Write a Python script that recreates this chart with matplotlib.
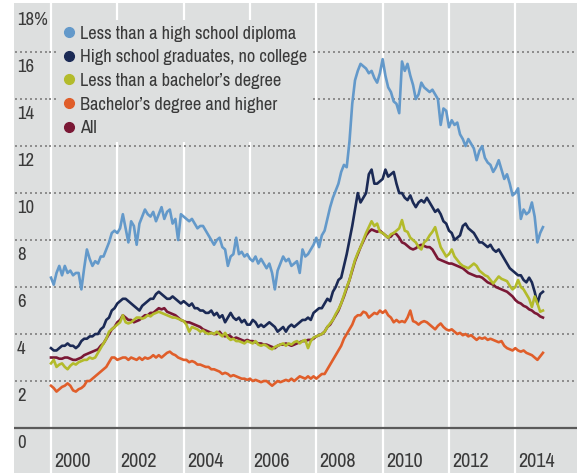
import numpy as np
import matplotlib
matplotlib.use("Agg")
import matplotlib.pyplot as plt
from matplotlib import font_manager as fm
from matplotlib.lines import Line2D

# Monthly unemployment rates (%), Jan 2000 - Nov 2014, one row per year
less_hs = [
    6.4, 6.1, 6.6, 6.9, 6.5, 6.9, 6.6, 6.7, 6.5, 6.6, 6.6, 5.9,
    6.8, 7.6, 7.2, 6.9, 7.1, 7.0, 7.3, 7.3, 7.6, 7.9, 8.3, 8.4,
    8.3, 8.5, 9.1, 8.5, 7.9, 8.8, 8.6, 7.8, 8.7, 9.0, 9.3, 9.1,
    9.0, 9.2, 8.8, 9.1, 9.4, 8.9, 9.2, 9.3, 8.7, 8.9, 8.0, 9.1,
    9.0, 8.9, 8.8, 8.9, 8.7, 8.5, 8.6, 8.6, 8.4, 8.2, 8.0, 7.8,
    8.0, 8.1, 7.7, 7.6, 6.9, 7.3, 7.4, 8.1, 7.4, 7.5, 7.3, 7.4,
    7.2, 7.1, 7.3, 7.0, 7.2, 7.0, 6.8, 7.0, 6.6, 5.9, 6.7, 7.0,
    7.3, 7.1, 7.2, 6.9, 7.0, 7.1, 6.6, 7.6, 7.3, 7.4, 7.6, 7.8,
    8.1, 7.7, 8.2, 8.4, 8.9, 9.4, 9.8, 10.1, 10.4, 10.9, 11.2, 11.1,
    12.2, 13.8, 14.8, 15.2, 15.5, 15.4, 15.3, 15.1, 15.2, 14.9, 14.7, 15.1,
    15.7, 15.0, 14.5, 14.3, 13.9, 13.8, 13.4, 15.6, 15.2, 15.5, 15.0, 14.6,
    14.0, 14.2, 14.7, 14.5, 14.4, 14.3, 14.4, 14.2, 14.0, 12.9, 13.6, 13.5,
    12.8, 13.1, 12.9, 13.0, 12.5, 12.3, 12.0, 12.3, 12.1, 11.9, 11.4, 11.8,
    12.0, 11.5, 11.3, 11.2, 10.9, 11.1, 11.4, 11.0, 10.6, 10.8, 10.4, 9.9,
    10.0, 10.2, 8.9, 9.3, 9.1, 9.2, 9.6, 9.0, 7.9, 8.3, 8.55,
]
hs_grad = [
    3.4, 3.3, 3.3, 3.4, 3.5, 3.5, 3.6, 3.5, 3.5, 3.4, 3.5, 3.7,
    3.8, 3.8, 3.9, 3.9, 4.0, 4.0, 4.2, 4.3, 4.6, 4.7, 5.0, 5.1,
    5.3, 5.4, 5.5, 5.5, 5.4, 5.3, 5.2, 5.1, 5.0, 5.2, 5.3, 5.4,
    5.5, 5.5, 5.7, 5.8, 5.7, 5.6, 5.5, 5.5, 5.6, 5.5, 5.4, 5.3,
    5.4, 5.3, 5.2, 5.3, 5.1, 5.1, 5.0, 5.0, 4.9, 4.9, 5.0, 4.8,
    4.9, 4.7, 4.8, 4.5, 4.7, 4.9, 4.7, 4.6, 4.7, 4.5, 4.6, 4.4,
    4.4, 4.6, 4.5, 4.3, 4.4, 4.3, 4.4, 4.5, 4.4, 4.3, 4.1, 4.2,
    4.3, 4.1, 4.3, 4.4, 4.3, 4.4, 4.5, 4.6, 4.6, 4.7, 4.6, 4.9,
    5.0, 5.1, 5.1, 5.3, 5.5, 5.4, 5.8, 6.0, 6.3, 6.4, 6.9, 7.4,
    8.0, 8.6, 9.3, 10.0, 9.6, 9.8, 10.0, 10.8, 11.0, 10.4, 10.4, 10.5,
    10.6, 11.0, 10.7, 10.8, 10.9, 10.4, 10.0, 10.0, 9.8, 9.7, 9.9, 9.6,
    9.4, 9.6, 9.7, 9.6, 9.8, 9.6, 9.4, 9.2, 9.3, 9.1, 8.8, 8.7,
    8.4, 8.3, 8.0, 8.1, 8.2, 8.6, 8.7, 8.5, 8.4, 8.3, 8.1, 7.9,
    7.9, 7.8, 7.7, 7.8, 7.6, 7.5, 7.6, 7.4, 7.2, 7.0, 6.8, 6.7,
    6.6, 6.5, 6.5, 6.3, 6.2, 6.4, 6.2, 5.8, 5.3, 5.7, 5.8,
]
less_ba = [
    2.75, 2.9, 2.6, 2.7, 2.75, 2.6, 2.5, 2.65, 2.75, 2.7, 2.8, 2.85,
    2.9, 2.9, 3.0, 2.95, 3.0, 3.2, 3.4, 3.6, 3.8, 4.1, 4.2, 4.3,
    4.4, 4.5, 4.8, 4.5, 4.45, 4.5, 4.6, 4.7, 4.7, 4.65, 4.7, 4.8,
    4.75, 4.85, 4.9, 4.95, 4.9, 4.85, 4.8, 4.75, 4.7, 4.7, 4.65, 4.6,
    4.55, 4.4, 4.1, 4.3, 4.25, 4.2, 4.1, 4.15, 4.05, 4.0, 4.05, 4.0,
    4.1, 4.0, 3.9, 4.05, 3.85, 3.75, 3.8, 3.7, 3.7, 3.65, 3.6, 3.7,
    3.65, 3.6, 3.7, 3.55, 3.5, 3.55, 3.5, 3.4, 3.35, 3.45, 3.5, 3.55,
    3.6, 3.5, 3.6, 3.55, 3.65, 3.7, 3.6, 3.7, 3.75, 3.4, 3.7, 3.85,
    3.9, 3.95, 4.0, 4.1, 4.3, 4.45, 4.6, 4.85, 5.05, 5.3, 5.65, 6.0,
    6.3, 6.75, 7.15, 7.45, 7.7, 8.0, 8.3, 8.55, 8.8, 8.6, 8.7, 8.35,
    8.3, 8.2, 8.1, 8.25, 8.3, 8.4, 8.5, 8.85, 8.4, 8.35, 8.1, 8.0,
    7.9, 7.7, 7.6, 7.9, 8.0, 8.2, 8.35, 8.55, 8.1, 7.7, 7.5, 7.3,
    7.4, 7.6, 7.3, 7.15, 7.0, 6.9, 6.85, 6.8, 6.9, 7.0, 6.9, 6.7,
    6.6, 6.5, 6.45, 6.3, 6.15, 6.3, 6.45, 6.35, 6.3, 6.25, 6.05, 5.9,
    6.0, 6.3, 6.0, 5.9, 5.7, 5.5, 5.15, 5.6, 5.3, 4.95, 5.0,
]
ba_plus = [
    1.8, 1.7, 1.55, 1.65, 1.75, 1.8, 1.9, 1.8, 1.6, 1.55, 1.65, 1.7,
    1.8, 2.0, 2.0, 2.1, 2.2, 2.3, 2.4, 2.5, 2.6, 2.8, 3.0, 3.0,
    2.9, 2.95, 3.0, 3.0, 2.9, 3.0, 2.95, 2.9, 3.0, 2.9, 3.0, 2.95,
    3.0, 3.1, 3.0, 3.1, 3.0, 3.1, 3.2, 3.25, 3.15, 3.1, 3.0, 2.95,
    2.9, 2.9, 2.8, 2.85, 2.8, 2.7, 2.7, 2.65, 2.6, 2.6, 2.5, 2.5,
    2.45, 2.4, 2.3, 2.35, 2.3, 2.2, 2.25, 2.2, 2.15, 2.1, 2.1, 2.05,
    2.1, 2.0, 2.05, 2.0, 1.95, 2.0, 2.0, 1.9, 1.8, 1.9, 2.0, 1.95,
    2.0, 2.05, 2.0, 2.1, 2.0, 2.1, 2.2, 2.15, 2.1, 2.2, 2.1, 2.2,
    2.1, 2.2, 2.3, 2.3, 2.5, 2.7, 2.9, 3.1, 3.3, 3.5, 3.8, 4.0,
    4.2, 4.4, 4.7, 4.8, 4.8, 4.95, 4.9, 4.7, 4.8, 4.9, 4.85, 5.0,
    4.9, 5.0, 4.8, 4.7, 4.5, 4.6, 4.5, 4.55, 4.5, 4.7, 5.0, 4.55,
    4.5, 4.4, 4.5, 4.55, 4.5, 4.4, 4.3, 4.2, 4.35, 4.45, 4.3, 4.2,
    4.15, 4.2, 4.1, 4.0, 4.05, 3.95, 4.0, 3.9, 3.95, 3.85, 3.75, 3.85,
    3.8, 3.85, 3.75, 3.8, 3.75, 3.7, 3.65, 3.7, 3.5, 3.4, 3.35, 3.3,
    3.4, 3.3, 3.25, 3.3, 3.2, 3.15, 3.1, 3.0, 2.9, 3.05, 3.2,
]
all_rate = [
    3.0, 3.0, 3.0, 2.95, 2.95, 3.0, 3.0, 2.95, 2.9, 2.9, 2.95, 3.0,
    3.1, 3.15, 3.2, 3.25, 3.3, 3.35, 3.5, 3.6, 3.8, 4.0, 4.2, 4.3,
    4.5, 4.6, 4.8, 4.7, 4.6, 4.6, 4.5, 4.55, 4.6, 4.7, 4.8, 4.8,
    4.9, 4.9, 5.0, 5.1, 5.05, 5.1, 4.95, 4.9, 4.85, 4.8, 4.7, 4.6,
    4.55, 4.5, 4.5, 4.45, 4.4, 4.35, 4.3, 4.2, 4.15, 4.1, 4.05, 4.0,
    4.0, 4.1, 3.95, 3.9, 3.95, 3.9, 3.8, 3.85, 3.8, 3.75, 3.7, 3.75,
    3.7, 3.7, 3.65, 3.6, 3.6, 3.55, 3.55, 3.5, 3.45, 3.4, 3.5, 3.55,
    3.55, 3.6, 3.55, 3.5, 3.55, 3.6, 3.65, 3.7, 3.7, 3.75, 3.75, 3.8,
    3.9, 3.95, 4.0, 4.1, 4.3, 4.4, 4.6, 4.8, 5.0, 5.3, 5.6, 5.95,
    6.3, 6.7, 7.1, 7.4, 7.7, 7.95, 8.2, 8.35, 8.45, 8.4, 8.35, 8.4,
    8.3, 8.2, 8.1, 8.15, 8.3, 8.25, 8.1, 7.9, 7.85, 7.75, 7.65, 7.6,
    7.65, 7.75, 7.8, 7.75, 7.7, 7.7, 7.6, 7.4, 7.2, 7.15, 7.1, 7.05,
    7.0, 7.0, 6.95, 6.9, 6.85, 6.8, 6.7, 6.6, 6.55, 6.5, 6.45, 6.45,
    6.4, 6.3, 6.2, 6.15, 6.1, 6.0, 5.95, 5.9, 5.85, 5.8, 5.7, 5.6,
    5.45, 5.35, 5.3, 5.2, 5.15, 5.05, 5.0, 4.9, 4.85, 4.75, 4.7,
]

labels = [
    "Less than a high school diploma",
    "High school graduates, no college",
    "Less than a bachelor\u2019s degree",
    "Bachelor\u2019s degree and higher",
    "All",
]
colors = ["#6399ca", "#1b2a55", "#b3bb2b", "#e05e2a", "#7a1835"]
x_years = [2000, 2002, 2004, 2006, 2008, 2010, 2012, 2014]
y_ticks = [0, 2, 4, 6, 8, 10, 12, 14, 16, 18]

BG = "#dddfdf"
TXT = "#3a3a3a"

# the original uses a condensed grotesque; pick a narrow face if one exists
fam, narrow = "DejaVu Sans", False
for f in fm.fontManager.ttflist:
    if "Narrow" in f.name or "Condensed" in f.name:
        fam, narrow = f.name, True
        break
plt.rcParams['font.family'] = [fam, 'DejaVu Sans']
shrink = 1.0 if narrow else 0.78

t = 2000 + np.arange(len(less_hs)) / 12
x0, x1 = 1998.885, 2015.86

fig = plt.figure(figsize=(5.77, 4.73), dpi=100)
ax = fig.add_axes([14 / 577, 0, 563 / 577, 470 / 473])
ax.set_facecolor(BG)
ax.set_xlim(x0, x1)
ax.set_ylim(-1.915, 18.09)
for s in ax.spines.values():
    s.set_visible(False)
ax.set_xticks([])
ax.set_yticks([])

for yr in x_years:
    ax.axvline(yr, color="white", lw=1.6, zorder=1)
# dotted horizontal grid, drawn as rows of small dots
dots = np.arange(x0 + 0.05, x1, 0.15)
for v in y_ticks[1:-1]:
    ax.plot(dots, np.full(len(dots), v), ls="none", marker="s", ms=1.6,
            mew=0, color="#8e8e8e", zorder=1.5)
ax.axhline(0, color="#5a5a5a", lw=1.6, zorder=2)

# series, "All" drawn under the yellow-green line
order = [(less_hs, 0), (hs_grad, 1), (all_rate, 4), (less_ba, 2), (ba_plus, 3)]
for data, i in order:
    ax.plot(t, data, color=colors[i], lw=1.9, zorder=3, solid_joinstyle="round")

# axis labels
for v in y_ticks:
    lab = "18%" if v == 18 else str(v)
    ax.text(1998.975, v - 0.85, lab, ha="left", va="baseline",
            fontsize=13.5 * shrink, color=TXT, zorder=4)
for yr in x_years:
    ax.text(yr + 0.1, -1.66, str(yr), ha="left", va="baseline",
            fontsize=14.5 * shrink, color=TXT, zorder=4)

handles = [Line2D([], [], ls="", marker="o", ms=7, color=c) for c in colors]
leg = ax.legend(handles, labels, loc="upper left",
                bbox_to_anchor=(0.0774, 0.9638), frameon=True,
                facecolor=BG, edgecolor="none", framealpha=1,
                fontsize=13.2 * shrink, handlelength=0.6 / shrink,
                handletextpad=0.3 / shrink,
                labelspacing=0.42 + (1 - shrink) * 1.2, borderpad=0.3,
                borderaxespad=0)
for txt in leg.get_texts():
    txt.set_color(TXT)

fig.savefig("out.png", dpi=100, facecolor="white")
